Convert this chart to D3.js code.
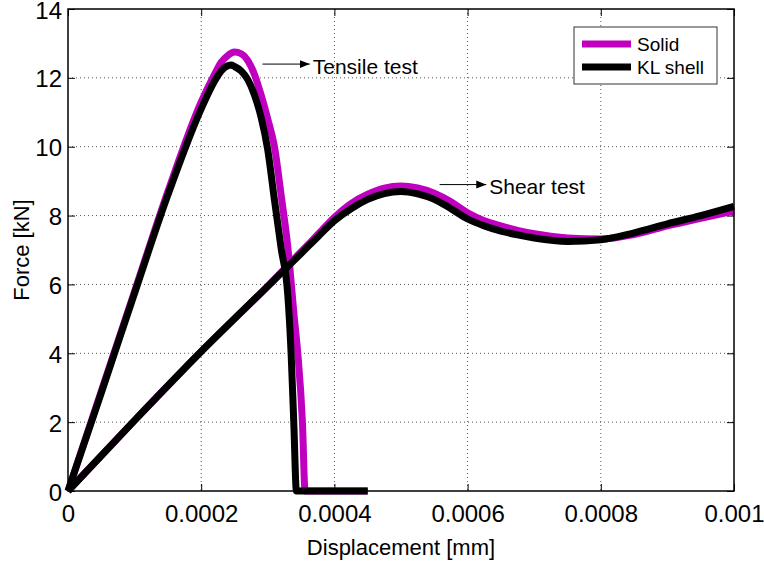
<!DOCTYPE html>
<html>
<head>
<meta charset="utf-8">
<script src="https://cdn.jsdelivr.net/npm/d3@7"></script>
<style>
  body { margin: 0; background: #fff; }
  svg text { font-family: "Liberation Sans", Arial, sans-serif; fill: #000; }
</style>
</head>
<body>
<div id="content"></div>
<script>
// tensile test curves
var tensileSolidX = [0, 0.00005, 0.0001, 0.00015, 0.0002, 0.00022, 0.00023, 0.00024, 0.00025, 0.00026, 0.00027, 0.00028, 0.00029, 0.0003, 0.00031, 0.00032, 0.00033, 0.00034, 0.000345, 0.000352, 0.000356, 0.00045];
var tensileSolidY = [0, 2.9, 5.8, 8.7, 11.3, 12.1, 12.45, 12.65, 12.75, 12.7, 12.5, 12.1, 11.5, 10.8, 10.0, 8.6, 7.1, 5.0, 4.0, 2.0, 0, 0];
var tensileShellX = [0, 0.00005, 0.0001, 0.00015, 0.0002, 0.00022, 0.00023, 0.00024, 0.000245, 0.00025, 0.00026, 0.00027, 0.00028, 0.00029, 0.0003, 0.00031, 0.00032, 0.00033, 0.000335, 0.000339, 0.000343, 0.00045];
var tensileShellY = [0, 2.85, 5.75, 8.6, 11.1, 11.9, 12.2, 12.35, 12.37, 12.33, 12.2, 11.95, 11.5, 10.85, 9.9, 8.45, 7.05, 5.7, 4.0, 2.0, 0, 0];

// shear test curves
var shearX = [0, 0.0001, 0.0002, 0.0003, 0.00035, 0.000375, 0.0004, 0.000425, 0.00045, 0.000475, 0.0005, 0.000525, 0.00055, 0.000575, 0.0006, 0.000625, 0.00065, 0.000675, 0.0007, 0.00075, 0.0008, 0.00085, 0.0009, 0.00095, 0.001];
var shearSolidY = [0, 2.05, 4.05, 5.95, 6.95, 7.45, 7.95, 8.35, 8.62, 8.8, 8.86, 8.8, 8.65, 8.4, 8.08, 7.85, 7.7, 7.57, 7.47, 7.35, 7.32, 7.45, 7.7, 7.92, 8.13];
var shearShellY = [0, 2.05, 4.05, 5.95, 6.9, 7.38, 7.85, 8.2, 8.47, 8.64, 8.7, 8.63, 8.47, 8.2, 7.9, 7.7, 7.55, 7.44, 7.35, 7.25, 7.3, 7.5, 7.76, 8.0, 8.27];

var xTicks = [0, 0.0002, 0.0004, 0.0006, 0.0008, 0.001];
var xTickLabels = ["0", "0.0002", "0.0004", "0.0006", "0.0008", "0.001"];
var yTicks = [0, 2, 4, 6, 8, 10, 12, 14];
var seriesNames = ["Solid", "KL shell"];
var seriesColors = ["#bf00bf", "#000000"];

var W = 764, H = 565;
var margin = { top: 9, right: 30, bottom: 74, left: 68 };
var width = W - margin.left - margin.right;
var height = H - margin.top - margin.bottom;

var svg = d3.select("#content").append("svg")
    .attr("width", W)
    .attr("height", H);

var g = svg.append("g")
    .attr("transform", "translate(" + margin.left + "," + margin.top + ")");

var x = d3.scaleLinear().domain([0, 0.001]).range([0, width]);
var y = d3.scaleLinear().domain([0, 14]).range([height, 0]);

// grid
g.append("g").selectAll("line")
    .data(xTicks.slice(1, -1))
    .enter().append("line")
    .attr("x1", function (d) { return x(d); })
    .attr("x2", function (d) { return x(d); })
    .attr("y1", 0).attr("y2", height)
    .attr("stroke", "#555").attr("stroke-width", 1)
    .attr("stroke-dasharray", "1,3");
g.append("g").selectAll("line")
    .data(yTicks.slice(1, -1))
    .enter().append("line")
    .attr("y1", function (d) { return y(d); })
    .attr("y2", function (d) { return y(d); })
    .attr("x1", 0).attr("x2", width)
    .attr("stroke", "#555").attr("stroke-width", 1)
    .attr("stroke-dasharray", "1,3");

// axes
var xAxis = d3.axisBottom(x).tickValues(xTicks)
    .tickFormat(function (d, i) { return xTickLabels[i]; })
    .tickSizeInner(-7).tickSizeOuter(0).tickPadding(14);
var yAxis = d3.axisLeft(y).tickValues(yTicks)
    .tickSizeInner(-7).tickSizeOuter(0).tickPadding(6);
var xAxisTop = d3.axisTop(x).tickValues(xTicks).tickFormat("").tickSizeInner(-7).tickSizeOuter(0);
var yAxisRight = d3.axisRight(y).tickValues(yTicks).tickFormat("").tickSizeInner(-7).tickSizeOuter(0);

var gx = g.append("g").attr("transform", "translate(0," + height + ")").call(xAxis);
var gy = g.append("g").call(yAxis);
g.append("g").call(xAxisTop);
g.append("g").attr("transform", "translate(" + width + ",0)").call(yAxisRight);

g.selectAll(".domain").remove();
g.selectAll(".tick line").attr("stroke", "#000");
gx.selectAll("text").style("font-size", "24px");
gy.selectAll("text").style("font-size", "24px").attr("dy", "0.38em");

// curves
var line = d3.line()
    .x(function (d) { return x(d[0]); })
    .y(function (d) { return y(d[1]); })
    .curve(d3.curveMonotoneX);

function pairs(xs, ys) {
    return xs.map(function (v, i) { return [v, ys[i]]; });
}

var curves = [
    { data: pairs(tensileSolidX, tensileSolidY), color: seriesColors[0] },
    { data: pairs(shearX, shearSolidY), color: seriesColors[0] },
    { data: pairs(tensileShellX, tensileShellY), color: seriesColors[1] },
    { data: pairs(shearX, shearShellY), color: seriesColors[1] }
];

g.append("g").selectAll("path")
    .data(curves)
    .enter().append("path")
    .attr("d", function (d) { return line(d.data); })
    .attr("fill", "none")
    .attr("stroke", function (d) { return d.color; })
    .attr("stroke-width", 7)
    .attr("stroke-linejoin", "round");

// box
g.append("rect")
    .attr("width", width).attr("height", height)
    .attr("fill", "none").attr("stroke", "#000").attr("stroke-width", 1.5);

// annotations
svg.append("defs").append("marker")
    .attr("id", "arrow")
    .attr("viewBox", "0 0 10 10")
    .attr("refX", 10).attr("refY", 5)
    .attr("markerWidth", 10).attr("markerHeight", 10)
    .attr("markerUnits", "userSpaceOnUse")
    .attr("orient", "auto")
    .append("path").attr("d", "M0,1 L10,5 L0,9 Z").attr("fill", "#000");

var notes = [
    { x1: 0.000292, x2: 0.000363, y: 12.4, text: "Tensile test" },
    { x1: 0.000558, x2: 0.000628, y: 8.9, text: "Shear test" }
];
notes.forEach(function (n) {
    g.append("line")
        .attr("x1", x(n.x1)).attr("x2", x(n.x2))
        .attr("y1", y(n.y)).attr("y2", y(n.y))
        .attr("stroke", "#000").attr("stroke-width", 1)
        .attr("marker-end", "url(#arrow)");
    g.append("text")
        .attr("x", x(n.x2) + 3).attr("y", y(n.y) + 2)
        .attr("dy", "0.36em")
        .style("font-size", "21px")
        .text(n.text);
});

// legend
var legend = svg.append("g").attr("transform", "translate(574,27)");
legend.append("rect")
    .attr("width", 143).attr("height", 57)
    .attr("fill", "#fff").attr("stroke", "#333").attr("stroke-width", 1);
seriesNames.forEach(function (name, i) {
    var ly = 17 + i * 23;
    legend.append("line")
        .attr("x1", 8).attr("x2", 57)
        .attr("y1", ly).attr("y2", ly)
        .attr("stroke", seriesColors[i]).attr("stroke-width", 7);
    legend.append("text")
        .attr("x", 63).attr("y", ly).attr("dy", "0.36em")
        .style("font-size", "19px")
        .text(name);
});

// axis labels
svg.append("text")
    .attr("x", margin.left + width / 2).attr("y", 555)
    .attr("text-anchor", "middle")
    .style("font-size", "22px")
    .text("Displacement [mm]");
svg.append("text")
    .attr("transform", "translate(29," + (margin.top + height / 2) + ") rotate(-90)")
    .attr("text-anchor", "middle")
    .style("font-size", "22px")
    .text("Force [kN]");
</script>
</body>
</html>
